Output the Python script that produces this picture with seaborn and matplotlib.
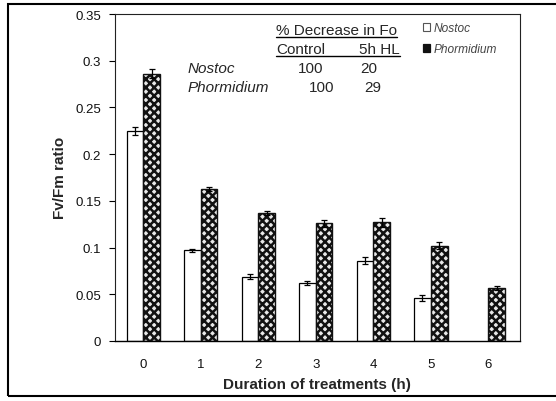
import numpy as np
import pandas as pd
import seaborn as sns
import matplotlib
matplotlib.use("Agg")
import matplotlib.pyplot as plt
from matplotlib.lines import Line2D
from matplotlib.patches import Rectangle
from matplotlib.ticker import FuncFormatter, MultipleLocator

# ---------------- data ----------------
hours = ["0", "1", "2", "3", "4", "5", "6"]
nostoc = [0.225, 0.097, 0.069, 0.062, 0.086, 0.046, np.nan]
nostoc_err = [0.004, 0.002, 0.003, 0.002, 0.004, 0.003, np.nan]
phormidium = [0.286, 0.163, 0.137, 0.126, 0.127, 0.102, 0.057]
phormidium_err = [0.005, 0.002, 0.002, 0.004, 0.005, 0.004, 0.002]
species = ["Nostoc", "Phormidium"]

table_title = "% Decrease in Fo"
table_cols = ["Control", "5h HL"]
table_rows = ["Nostoc", "Phormidium"]
table_vals = [["100", "20"], ["100", "29"]]

ylabel = "Fv/Fm ratio"
xlabel = "Duration of treatments (h)"

rows = []
for i, h in enumerate(hours):
    rows.append({"hour": h, "species": species[0], "val": nostoc[i], "err": nostoc_err[i]})
    rows.append({"hour": h, "species": species[1], "val": phormidium[i], "err": phormidium_err[i]})
df = pd.DataFrame(rows)

# ---------------- style ----------------
sns.set_theme(style="ticks")
plt.rcParams["font.family"] = ["Liberation Sans", "DejaVu Sans"]
plt.rcParams["hatch.linewidth"] = 1.8
plt.rcParams["hatch.color"] = "#111111"

W, H = 556, 402
fig = plt.figure(figsize=(W / 100, H / 100), dpi=100)
fig.patch.set_facecolor("white")

L, R, T, B = 115, 520, 15, 342
ax = fig.add_axes([L / W, 1 - B / H, (R - L) / W, (B - T) / H])

sns.barplot(data=df, x="hour", y="val", hue="species", order=hours,
            hue_order=species, width=0.58, gap=0, errorbar=None,
            palette=["white", "white"], edgecolor="black", linewidth=0.9,
            legend=True, ax=ax)

def style_phorm(p):
    p.set_facecolor("#e8e8e8")
    p.set_hatch("xxxx")
    p.set_edgecolor("#111111")
    p.set_linewidth(1.0)

# style containers and add error bars from bar geometry
for cont, sp in zip(ax.containers, species):
    sub = df[df["species"] == sp].set_index("hour").loc[hours]
    xs, ys, es = [], [], []
    for bar, (h, r) in zip(cont.patches, sub.iterrows()):
        if sp == "Phormidium":
            style_phorm(bar)
        if np.isfinite(r["val"]):
            xs.append(bar.get_x() + bar.get_width() / 2)
            ys.append(r["val"])
            es.append(r["err"])
    ax.errorbar(xs, ys, yerr=es, fmt="none", ecolor="black",
                elinewidth=0.9, capsize=2.3, capthick=0.9, zorder=5)

ax.set_ylim(0, 0.35)
ax.set_xlim(-0.49, 6.55)
ax.yaxis.set_major_locator(MultipleLocator(0.05))
ax.yaxis.set_major_formatter(FuncFormatter(lambda v, p: f"{v:g}"))
ax.tick_params(axis="y", length=4, width=0.8, pad=6, labelsize=9.5, color="black")
ax.tick_params(axis="x", length=0, pad=12, labelsize=9.5)
for lab in ax.get_xticklabels() + ax.get_yticklabels():
    lab.set_color("#111111")

ax.set_xlabel("")
ax.set_ylabel("")

for side in ["top", "right", "left"]:
    ax.spines[side].set_linestyle((0, (1, 1)))
    ax.spines[side].set_linewidth(0.8)
    ax.spines[side].set_color("#222222")
ax.spines["bottom"].set_linewidth(1.0)
ax.spines["bottom"].set_color("black")

# legend
handles, labels = ax.get_legend_handles_labels()
leg = ax.legend(handles, labels, loc="upper left",
                bbox_to_anchor=((423 - L) / (R - L), (B - 23) / (B - T)),
                frameon=False, borderpad=0, borderaxespad=0,
                handlelength=0.6, handleheight=0.6, handletextpad=0.25,
                labelspacing=0.75,
                prop={"style": "italic", "size": 8.6})
lh = leg.legend_handles
lh[0].set_edgecolor("#555555")
lh[0].set_linewidth(0.8)
lh[1].set_facecolor("#111111")
lh[1].set_hatch("xx")
lh[1].set_edgecolor("#111111")
for t in leg.get_texts():
    t.set_color("#444444")

# axis titles
fig.text(317 / W, 1 - 385 / H, xlabel, ha="center", va="center",
         fontsize=11, fontweight="bold")
fig.text(60 / W, 1 - 178 / H, ylabel, ha="center", va="center",
         rotation=90, fontsize=11, fontweight="bold")

# in-plot table
def ftxt(x, y, s, **kw):
    return fig.text(x / W, 1 - y / H, s, va="baseline", fontsize=11, **kw)

t_title = ftxt(276, 35, table_title)
t_c1 = ftxt(276, 54, table_cols[0])
t_c2 = ftxt(400, 54, table_cols[1], ha="right")
ftxt(188, 73, table_rows[0], style="italic")
ftxt(188, 92, table_rows[1], style="italic")
ftxt(311, 73, table_vals[0][0], ha="center")
ftxt(369, 73, table_vals[0][1], ha="center")
ftxt(322, 92, table_vals[1][0], ha="center")
ftxt(373, 92, table_vals[1][1], ha="center")

fig.canvas.draw()
rend = fig.canvas.get_renderer()

def underline(t_left, t_right, ypix):
    b1 = t_left.get_window_extent(rend)
    b2 = t_right.get_window_extent(rend)
    x0 = b1.x0 / W
    x1 = b2.x1 / W
    fig.add_artist(Line2D([x0, x1], [1 - ypix / H, 1 - ypix / H],
                          transform=fig.transFigure, color="black", lw=1.0))

underline(t_title, t_title, 37.5)
underline(t_c1, t_c2, 56.5)

# outer frame
fig.add_artist(Rectangle((8 / W, 1 - 397 / H), 1.2, (397 - 5) / H,
                         transform=fig.transFigure, fill=False,
                         edgecolor="black", lw=1.5))

fig.savefig("out.png", dpi=100, facecolor="white")
